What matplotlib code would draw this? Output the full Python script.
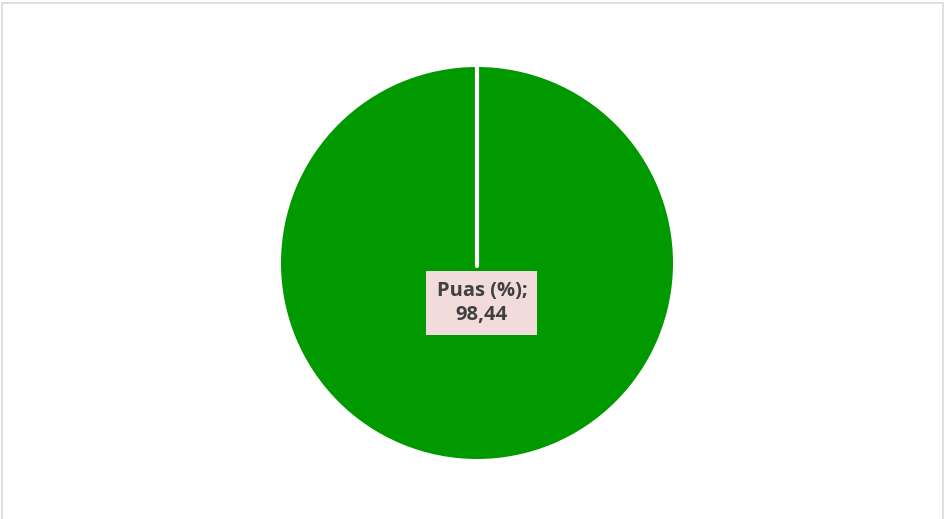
import matplotlib.pyplot as plt
import numpy as np
from matplotlib.patches import Rectangle

# data
labels = ['Puas (%)']
values = [98.44]
colors = ['#009900']
start_angle = 90

fig = plt.figure(figsize=(9.45, 5.19), dpi=100)
fig.patches.append(Rectangle((2 / 945, -0.01), 941 / 945, 1 - 3 / 519 + 0.01,
                             transform=fig.transFigure, fill=False,
                             edgecolor='#d9d9d9', linewidth=1.2))

# pie centre ~ (477, 263), radius ~195 px
ax = fig.add_axes([(477 - 196) / 945, (519 - 263 - 196) / 519, 392 / 945, 392 / 519])
wedges, _ = ax.pie(values, colors=colors, startangle=start_angle, counterclock=False,
                   radius=1.0, wedgeprops=dict(edgecolor='none'))
# single full slice: draw the white slice border like Excel does
a = np.deg2rad(start_angle)
ax.plot([0, np.cos(a)], [-0.015, np.sin(a)], color='white', lw=3, solid_capstyle='round')
ax.set_xlim(-1.0, 1.0)
ax.set_ylim(-1.0, 1.0)
ax.set_aspect('equal')

ax.text(0.025, -0.205, '%s;\n%s' % (labels[0], ('%.2f' % values[0]).replace('.', ',')),
        ha='center', va='center', fontsize=14.5, fontweight='bold', color='#404040',
        family='Open Sans', linespacing=1.25,
        bbox=dict(boxstyle='square,pad=0.5', facecolor='#f2dcdb', edgecolor='none'))

fig.savefig('out.png', dpi=100, facecolor='white')
